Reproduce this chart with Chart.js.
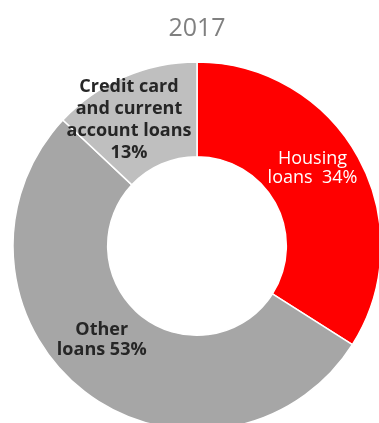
<!DOCTYPE html>
<html>
<head>
<meta charset="utf-8">
<script src="https://cdn.jsdelivr.net/npm/chart.js@4"></script>
<style>
    html, body { margin: 0; padding: 0; background: #fff; overflow: hidden; }
    #wrap { position: relative; width: 379px; height: 430px; }
</style>
</head>
<body>
<div id="wrap"><canvas id="loanChart"></canvas></div>
<script>
'use strict';

// ---------------------------------------------------------------------------
// data
// ---------------------------------------------------------------------------

const chartTitle = '2017';
const categories = ['Housing loans', 'Other loans', 'Credit card and current account loans'];
const shares     = [34, 53, 13];
const labelLines = [
    ['Housing', 'loans  '],
    ['Other', 'loans '],
    ['Credit card', 'and current', 'account loans', ''],
];

// ---------------------------------------------------------------------------
// styles
// ---------------------------------------------------------------------------

const SLICE_COLORS = ['#ff0000', '#a6a6a6', '#bfbfbf'];
const TEXT_COLORS  = ['#ffffff', '#262626', '#262626'];

// label placement: angle nudge (deg) from slice middle, distance from centre (px), line height
const LABEL_PLACEMENT = [
    { nudge: -5,  dist: 139, lineHeight: 19 },
    { nudge: 7.5, dist: 134, lineHeight: 20 },
    { nudge: -5,  dist: 143, lineHeight: 22 },
];

/** draws the multi-line text inside each slice */
const sliceLabels = {
    id: 'sliceLabels',
    afterDatasetsDraw(chart) {
        const { ctx } = chart;
        const meta = chart.getDatasetMeta(0);
        ctx.save();
        ctx.textAlign = 'center';
        ctx.textBaseline = 'middle';
        meta.data.forEach((arc, i) => {
            const p   = LABEL_PLACEMENT[i];
            const mid = (arc.startAngle + arc.endAngle) / 2 + p.nudge * Math.PI / 180;
            const cx  = arc.x + p.dist * Math.cos(mid);
            const cy  = arc.y + p.dist * Math.sin(mid);
            const lines = labelLines[i].slice();
            lines[lines.length - 1] += `${shares[i]}%`;
            ctx.fillStyle = TEXT_COLORS[i];
            ctx.font = (i === 0 ? '' : 'bold ') + '18px "Open Sans", sans-serif';
            lines.forEach((line, k) => {
                const y = cy + (k - (lines.length - 1) / 2) * p.lineHeight;
                ctx.fillText(line, cx, y);
            });
        });
        ctx.restore();
    },
};

new Chart(document.getElementById('loanChart'), {
    type: 'doughnut',
    data: {
        labels: categories,
        datasets: [{
            data:            shares,
            backgroundColor: SLICE_COLORS,
            borderColor:     '#ffffff',
            borderWidth:     1.5,
            clip:            false,
        }],
    },
    options: {
        responsive: true,
        maintainAspectRatio: false,
        animation: false,
        radius: 184,
        cutout: 88,
        layout: { padding: { left: 15, right: 0, top: 0, bottom: 0 } },
        plugins: {
            legend:  { display: false },
            tooltip: { enabled: false },
            title: {
                display: true,
                text:    chartTitle,
                color:   '#808080',
                font:    { family: '"Open Sans", sans-serif', size: 25, weight: 'normal', lineHeight: 1.2 },
                padding: { top: 14, bottom: 18 },
            },
        },
    },
    plugins: [sliceLabels],
});
</script>
</body>
</html>
